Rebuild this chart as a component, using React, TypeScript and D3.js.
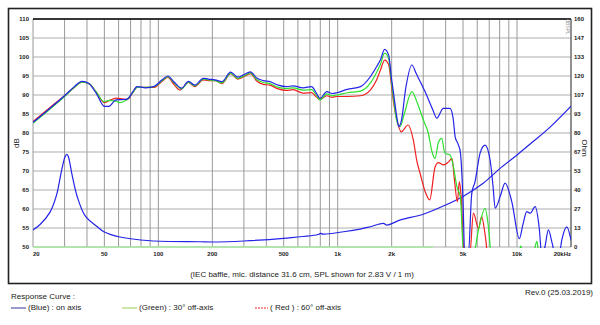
import React from 'react';
import * as d3 from 'd3';

// SPL curves [Hz, dB]
const blueSpl: [number, number][] = [
  [20, 82.8], [25, 86.6], [30, 89.8], [34, 92.2], [37.5, 93.6], [41, 93.0], [45, 90.5], [50, 87.0], [53, 87.0],
  [58, 88.7], [63, 88.8], [67, 88.9], [72, 90.8], [76, 92.2], [85, 91.9], [95, 92.3], [105, 94.0], [113, 95.0],
  [122, 93.5], [135, 91.8], [147, 93.6], [160, 92.6], [178, 94.4], [190, 94.2], [207, 94.0], [226, 93.5],
  [253, 96.0], [277, 94.7], [299, 95.3], [326, 96.1], [355, 94.4], [385, 93.8], [419, 93.5], [466, 92.6],
  [518, 92.2], [564, 92.4], [642, 91.9], [716, 92.2], [760, 90.5], [797, 89.1], [870, 90.9], [930, 90.4],
  [990, 90.6], [1130, 91.5], [1340, 92.2], [1520, 94.8], [1650, 97.5], [1730, 99.2], [1827, 102.0],
  [1924, 100.5], [2000, 94], [2050, 90.4], [2140, 84], [2190, 81.7], [2260, 83], [2400, 92], [2590, 97.9],
  [2750, 95.5], [3070, 90.9], [3400, 86], [3570, 83.9], [3880, 86.5], [4230, 86.5], [4400, 84], [4520, 79],
  [4700, 77], [4830, 75], [5000, 62], [5110, 48], [5350, 48], [5594, 64.1], [5836, 67.2], [6224, 74.7],
  [6640, 76.8], [7078, 72.9], [7350, 66], [7550, 60.2], [8046, 63.2], [8580, 66.8], [9354, 61.9],
  [10306, 52.2], [10800, 56], [11340, 59.3], [11850, 58.9], [12620, 60.6], [13300, 55], [13740, 48],
  [14300, 50], [14960, 54.5], [15700, 51], [16300, 48], [17150, 48], [17800, 52], [18950, 55.3], [20000, 51.8],
];

const greenSpl: [number, number][] = [
  [20, 82.6], [25, 86.4], [30, 89.6], [34, 92.0], [37.5, 93.4], [41, 93.0], [45, 90.8], [50, 88.2], [53, 88.6],
  [58, 88.4], [61, 88.0], [66, 88.6], [72, 90.6], [76, 92.0], [85, 92.0], [95, 92.2], [105, 93.8], [113, 94.8],
  [122, 93.3], [135, 91.6], [147, 93.4], [160, 92.4], [178, 94.2], [190, 94.0], [207, 93.8], [226, 93.2],
  [253, 95.7], [277, 94.4], [299, 95.0], [326, 95.8], [355, 94.0], [385, 93.3], [419, 93.0], [466, 92.0],
  [518, 91.7], [564, 91.9], [642, 91.3], [716, 91.4], [760, 90.0], [797, 88.7], [870, 90.3], [930, 89.8],
  [990, 90.0], [1130, 90.6], [1340, 91.0], [1520, 93.1], [1650, 96], [1730, 98.0], [1827, 101.0],
  [1924, 99.5], [2000, 93], [2050, 89], [2140, 83], [2230, 81.7], [2350, 85], [2590, 90.9], [2800, 87.5],
  [3006, 83.4], [3200, 80], [3360, 75], [3491, 73.3], [3644, 77.5], [3804, 78.6], [3960, 74.7], [4234, 74.2],
  [4420, 71.1], [4620, 65.9], [4830, 63.2], [5040, 48], [5700, 48], [6100, 54.5], [6640, 60.2], [6900, 56],
  [7200, 48], [10200, 48], [10500, 50.3], [10800, 48], [12300, 48], [12900, 51.5], [13300, 48], [20000, 48],
];

const redSpl: [number, number][] = [
  [20, 83.0], [25, 86.8], [30, 89.8], [34, 92.0], [37.5, 93.4], [41, 93.0], [45, 90.8], [50, 88.0], [53, 88.5],
  [58, 89.2], [63, 89.0], [67, 88.8], [72, 90.6], [76, 92.0], [85, 92.0], [95, 92.0], [105, 93.6], [113, 94.6],
  [122, 92.8], [132, 91.3], [147, 93.3], [160, 92.2], [178, 94.0], [190, 93.8], [207, 93.8], [226, 93.0],
  [253, 95.6], [277, 94.2], [299, 94.8], [326, 95.6], [355, 93.6], [385, 92.8], [419, 92.6], [466, 91.6],
  [518, 91.2], [564, 91.4], [642, 90.5], [716, 90.6], [760, 89.5], [797, 88.8], [870, 89.8], [930, 89.4],
  [990, 89.6], [1130, 89.6], [1340, 89.8], [1520, 91.3], [1650, 94], [1730, 96.5], [1827, 99.2], [1924, 98],
  [2000, 92], [2050, 88], [2140, 83.4], [2260, 80.3], [2470, 82.1], [2640, 78.2], [2770, 72.4], [2880, 69.4],
  [3072, 64.6], [3260, 62.4], [3490, 71], [3644, 72.2], [3890, 71.6], [4150, 72.4], [4340, 73.3], [4480, 67.6],
  [4650, 61.9], [4770, 67.2], [4880, 63.2], [5070, 48], [5450, 48], [5712, 58.9], [6100, 54.9], [6350, 58],
  [6650, 53], [6880, 48], [20000, 48],
];

// impedance [Hz, Ohm]
const impedance: [number, number][] = [
  [20, 11.9], [21.9, 15.8], [24.9, 24.5], [27, 36], [28.9, 54], [30.2, 63.4], [30.9, 65], [31.5, 63.4],
  [32.9, 51.7], [35.3, 35.3], [39.1, 21.8], [45.3, 14.5], [50, 10.5], [61, 7], [90, 4.4], [171, 3.7], [200, 3.5],
  [300, 4.2], [498, 6.1], [788, 8.9], [800, 9.6], [830, 9.0], [1078, 10.7], [1336, 12.6], [1518, 14.2],
  [1800, 16.6], [1880, 15.4], [2240, 19], [3000, 23], [4000, 29.5], [5000, 35.5], [6480, 44.7], [8046, 55.2],
  [10000, 64.6], [12300, 74], [15400, 84.5], [20000, 98.8],
];
const greenImpedance: [number, number][] = [[20, 0], [3400, 0]];

const dbTicks = [50, 55, 60, 65, 70, 75, 80, 85, 90, 95, 100, 105, 110];
const ohmTicks = [0, 13, 27, 40, 53, 67, 80, 93, 107, 120, 133, 147, 160];
const freqLabels: [number, string][] = [
  [20, '20'], [50, '50'], [100, '100'], [200, '200'], [500, '500'], [1000, '1k'], [2000, '2k'],
  [5000, '5k'], [10000, '10k'], [20000, '20kHz'],
];
const freqGrid = [
  20, 30, 40, 50, 60, 70, 80, 90, 100, 200, 300, 400, 500, 600, 700, 800, 900, 1000,
  2000, 3000, 4000, 5000, 6000, 7000, 8000, 9000, 10000, 20000,
];

const BLUE = '#2424e8';
const GREEN = '#2ee02e';
const RED = '#ee2020';
const FONT = '"Liberation Sans", Arial, sans-serif';

export default function App() {
  const W = 600, H = 325;
  const L = 33, R = 571, T = 19, B = 247;
  const x = d3.scaleLog().domain([20, 20000]).range([L, R]);
  const y = d3.scaleLinear().domain([50, 110]).range([B, T]);
  const yo = d3.scaleLinear().domain([0, 160]).range([B, T]);

  const spl = d3.line<[number, number]>().x(d => x(d[0])).y(d => y(d[1])).curve(d3.curveMonotoneX);
  const ohm = d3.line<[number, number]>().x(d => x(d[0])).y(d => yo(d[1])).curve(d3.curveCatmullRom.alpha(0.5));

  return (
    <svg width={W} height={H} style={{ position: 'absolute', left: 0, top: 0, background: '#fff' }}
      fontFamily={FONT}>
      <defs>
        <clipPath id="plot"><rect x={L} y={T} width={R - L} height={B - T + 1} /></clipPath>
      </defs>
      {/* frame */}
      <rect x={8.5} y={8.5} width={583} height={275} fill="none" stroke="#222" strokeWidth={1.6} />

      {/* grid */}
      {dbTicks.map(t => (
        <line key={'h' + t} x1={L} x2={R} y1={y(t)} y2={y(t)} stroke="#c8c8c8" strokeWidth={1.4} />
      ))}
      {freqGrid.map(f => (
        <line key={'v' + f} x1={x(f)} x2={x(f)} y1={T} y2={B} stroke="#9a9a9a" strokeWidth={1} />
      ))}
      <line x1={L} x2={R} y1={T} y2={T} stroke="#000" strokeWidth={1.6} />
      <line x1={R} x2={R} y1={T} y2={B} stroke="#555" strokeWidth={1} />

      {/* curves */}
      <g clipPath="url(#plot)" fill="none" strokeWidth={1.2}>
        <path d={ohm(greenImpedance) ?? ''} stroke="#a8e8a0" strokeWidth={1.4} />
        <path d={ohm(impedance) ?? ''} stroke={BLUE} />
        <path d={spl(redSpl) ?? ''} stroke={RED} />
        <path d={spl(greenSpl) ?? ''} stroke={GREEN} />
        <path d={spl(blueSpl) ?? ''} stroke={BLUE} />
      </g>

      {/* axis labels */}
      {dbTicks.map(t => (
        <text key={'l' + t} x={29} y={y(t) + 2} fontSize={6} fontWeight="bold" textAnchor="end" fill="#222">{t}</text>
      ))}
      {ohmTicks.map((t, i) => (
        <text key={'r' + t} x={574} y={yo((i * 160) / 12) + 2} fontSize={6} fontWeight="bold" fill="#222">{t}</text>
      ))}
      {freqLabels.map(([f, s]) => (
        <text key={'f' + f} x={x(f)} y={256} fontSize={6} fontWeight="bold"
          textAnchor={f === 20000 ? 'end' : f === 20 ? 'start' : 'middle'} fill="#222">{s}</text>
      ))}
      <text transform="translate(19,143) rotate(-90)" fontSize={8} textAnchor="middle" fill="#222">dB</text>
      <text transform="translate(582,148) rotate(90)" fontSize={8} textAnchor="middle" fill="#222">Ohm</text>
      <text transform="translate(566,27) rotate(90)" fontSize={5} textAnchor="middle" fill="#999">dBSPL</text>

      <text x={302} y={277} fontSize={8} textAnchor="middle" fill="#222">
        (IEC baffle, mic. distance 31.6 cm, SPL shown for 2.83 V / 1 m)
      </text>

      {/* legend */}
      <text x={11} y={299} fontSize={8} fill="#222">Response Curve :</text>
      <text x={593} y={295} fontSize={8} textAnchor="end" fill="#222">Rev.0 (25.03.2019)</text>
      <line x1={11} x2={26} y1={308} y2={308} stroke="#333399" strokeWidth={1} />
      <text x={28} y={310} fontSize={8} fill="#222">(Blue) : on axis</text>
      <line x1={122} x2={137} y1={308} y2={308} stroke="#99cc55" strokeWidth={1} />
      <text x={139} y={310} fontSize={8} fill="#222">(Green) : 30° off-axis</text>
      <line x1={255} x2={268} y1={308} y2={308} stroke={RED} strokeWidth={1} strokeDasharray="2,1" />
      <text x={270} y={310} fontSize={8} fill="#222">( Red ) : 60° off-axis</text>
    </svg>
  );
}
